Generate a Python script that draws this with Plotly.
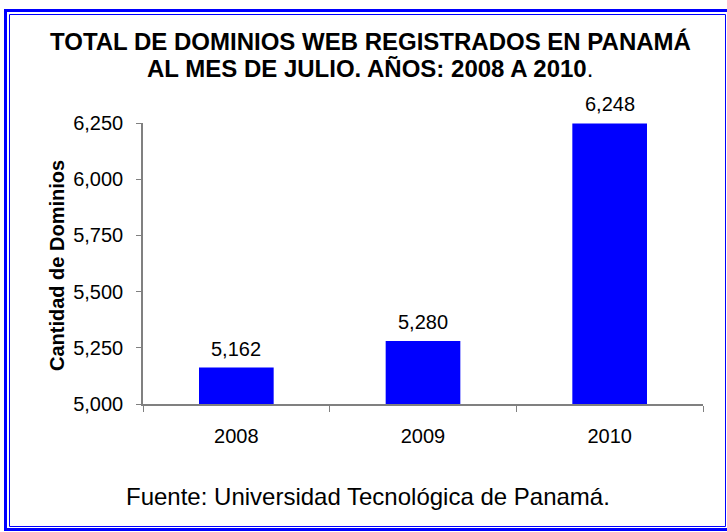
import plotly.graph_objects as go

years = ["2008", "2009", "2010"]
dominios = [5162, 5280, 6248]
y_ticks = [5000, 5250, 5500, 5750, 6000, 6250]

W, H = 727, 532
L, R, T, B = 143, 24, 123, 128
PW, PH = W - L - R, H - T - B

def px(x):
    return (x - L) / PW

def py(y):
    return (H - B - y) / PH

BLUE = "#0000FF"
FONT = "Liberation Sans, Arial, sans-serif"

fig = go.Figure(go.Bar(
    x=years, y=dominios, marker=dict(color=BLUE, line=dict(width=0)),
    width=0.4, hoverinfo="skip", cliponaxis=False))

# value labels (category index positions on the category axis)
for i, v in enumerate(dominios):
    fig.add_annotation(x=i, y=v, xref="x", yref="y", text=f"{v:,}",
                       showarrow=False, yanchor="bottom", yshift=6,
                       font=dict(family=FONT, size=20, color="black"))

fig.add_annotation(x=px(370), y=py(41), xref="paper", yref="paper",
                   text="<b>TOTAL DE DOMINIOS WEB REGISTRADOS EN PANAMÁ</b>",
                   showarrow=False, xanchor="center", yanchor="middle",
                   font=dict(family=FONT, size=24, color="black"))
fig.add_annotation(x=px(370), y=py(69), xref="paper", yref="paper",
                   text="<b>AL MES DE JULIO. AÑOS: 2008 A 2010</b>.",
                   showarrow=False, xanchor="center", yanchor="middle",
                   font=dict(family=FONT, size=24, color="black"))
fig.add_annotation(x=px(368), y=py(496), xref="paper", yref="paper",
                   text="Fuente: Universidad Tecnológica de Panamá.",
                   showarrow=False, xanchor="center", yanchor="middle",
                   font=dict(family=FONT, size=24, color="black"))
fig.add_annotation(x=px(57), y=py(266), xref="paper", yref="paper",
                   text="<b>Cantidad de Dominios</b>", textangle=-90,
                   showarrow=False, xanchor="center", yanchor="middle",
                   font=dict(family=FONT, size=20, color="black"))

# double border
fig.add_shape(type="rect", xref="paper", yref="paper",
              x0=px(5.5), x1=px(728.5), y0=py(10.5), y1=py(529.5),
              line=dict(color=BLUE, width=3), layer="above")
fig.add_shape(type="rect", xref="paper", yref="paper",
              x0=px(9.5), x1=px(725.5), y0=py(14.5), y1=py(526.5),
              line=dict(color=BLUE, width=1), layer="above")

fig.update_layout(
    width=W, height=H, margin=dict(l=L, r=R, t=T, b=B),
    paper_bgcolor="white", plot_bgcolor="white", showlegend=False,
    bargap=0.6,
    xaxis=dict(type="category", range=[-0.5, 2.5], showline=True,
               linecolor="#808080", linewidth=1.5, ticks="outside",
               tickson="boundaries", ticklen=6, tickcolor="#808080",
               ticklabelstandoff=13,
               tickfont=dict(family=FONT, size=20, color="black"),
               showgrid=False, zeroline=False, fixedrange=True),
    yaxis=dict(range=[5000, 6250], tickvals=y_ticks,
               ticktext=[f"{v:,}" for v in y_ticks],
               showline=True, linecolor="#808080", linewidth=1.5,
               ticks="outside", ticklen=5, tickcolor="#808080",
               ticklabelstandoff=9,
               tickfont=dict(family=FONT, size=20, color="black"),
               showgrid=False, zeroline=False, fixedrange=True),
)

fig.write_html("out.html", config={"displayModeBar": False},
               post_script="document.body.style.margin='0';")
